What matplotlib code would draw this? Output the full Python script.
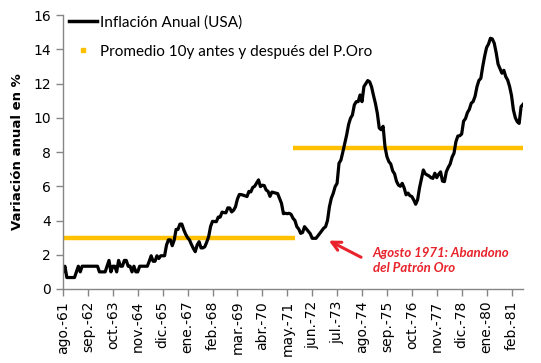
import matplotlib.pyplot as plt
import numpy as np
from matplotlib.lines import Line2D

meses = ['ene.', 'feb.', 'mar.', 'abr.', 'may.', 'jun.',
         'jul.', 'ago.', 'sep.', 'oct.', 'nov.', 'dic.']

# Inflacion interanual USA (%), mensual de ago-1961 a ago-1981
infl_1961 = [1.0, 1.33, 0.67, 0.67, 0.67]
infl_1962 = [0.67, 0.67, 1.0, 1.33, 1.0, 1.33, 1.33, 1.33, 1.33, 1.33, 1.33, 1.33]
infl_1963 = [1.33, 1.33, 1.0, 1.0, 1.0, 1.0, 1.33, 1.67, 1.0, 1.33, 1.33, 1.0]
infl_1964 = [1.67, 1.33, 1.33, 1.67, 1.67, 1.33, 1.33, 1.0, 1.33, 1.0, 1.0, 1.33]
infl_1965 = [1.33, 1.33, 1.33, 1.33, 1.62, 1.94, 1.62, 1.62, 1.94, 1.78, 1.94, 1.94]
infl_1966 = [1.94, 2.56, 2.87, 2.87, 2.53, 2.85, 3.48, 3.48, 3.79, 3.79, 3.46, 3.2]
infl_1967 = [3.0, 2.86, 2.6, 2.37, 2.18, 2.57, 2.76, 2.4, 2.4, 2.47, 2.74, 3.06]
infl_1968 = [3.65, 3.95, 3.94, 3.93, 4.2, 4.2, 4.49, 4.46, 4.45, 4.74, 4.73, 4.5]
infl_1969 = [4.6, 4.8, 5.25, 5.52, 5.51, 5.48, 5.44, 5.4, 5.7, 5.67, 5.93, 6.0]
infl_1970 = [6.18, 6.37, 5.98, 6.06, 6.04, 5.78, 5.7, 5.41, 5.66, 5.63, 5.6, 5.57]
infl_1971 = [5.29, 5.0, 4.4, 4.42, 4.4, 4.42, 4.36, 4.13, 4.0, 3.64, 3.5, 3.25]
infl_1972 = [3.3, 3.64, 3.5, 3.35, 3.23, 2.96, 2.96, 2.96, 3.1, 3.25, 3.4, 3.55]
infl_1973 = [3.64, 4.0, 4.8, 5.3, 5.59, 5.98, 6.17, 7.34, 7.53, 8.0, 8.5, 9.0]
infl_1974 = [9.6, 9.97, 10.16, 10.75, 10.94, 10.94, 11.33, 10.94, 11.82, 12.0, 12.17, 12.1]
infl_1975 = [11.8, 11.3, 10.84, 10.26, 9.4, 9.3, 9.5, 8.3, 7.73, 7.44, 7.3, 6.9]
infl_1976 = [6.72, 6.29, 6.07, 6.0, 6.17, 5.9, 5.5, 5.6, 5.45, 5.4, 5.2, 4.95]
infl_1977 = [5.21, 5.9, 6.44, 6.95, 6.73, 6.66, 6.6, 6.5, 6.46, 6.76, 6.5, 6.7]
infl_1978 = [6.84, 6.3, 6.27, 6.85, 7.1, 7.3, 7.7, 7.93, 8.6, 8.93, 8.95, 9.05]
infl_1979 = [9.8, 9.95, 10.3, 10.49, 10.85, 10.95, 11.26, 11.82, 12.18, 12.3, 13.0, 13.6]
infl_1980 = [14.1, 14.3, 14.64, 14.6, 14.35, 13.8, 13.13, 12.87, 12.6, 12.77, 12.4, 12.2]
infl_1981 = [11.83, 11.3, 10.45, 10.0, 9.77, 9.67, 10.65, 10.78]

inflacion = (infl_1961 + infl_1962 + infl_1963 + infl_1964 + infl_1965 + infl_1966
             + infl_1967 + infl_1968 + infl_1969 + infl_1970 + infl_1971 + infl_1972
             + infl_1973 + infl_1974 + infl_1975 + infl_1976 + infl_1977 + infl_1978
             + infl_1979 + infl_1980 + infl_1981)

# promedios 10 años antes / después del abandono del patrón oro
promedio_antes = 3.0
promedio_despues = 8.25
corte_antes = 121   # ultimo mes del tramo "antes"
corte_despues = 120  # primer mes del tramo "despues"

# etiquetas de categoria: "ago.-61", "sep.-61", ...
etiquetas = []
for i in range(len(inflacion)):
    m = (7 + i) % 12
    anio = 61 + (7 + i) // 12
    etiquetas.append(meses[m] + '-' + str(anio))

x = np.arange(len(inflacion))
serie_antes = np.where(x <= corte_antes, promedio_antes, np.nan)
serie_despues = np.where(x >= corte_despues, promedio_despues, np.nan)

fig = plt.figure(figsize=(5.41, 3.63), dpi=100)
ax = fig.add_axes([63 / 541, 1 - 289 / 363, 460 / 541, 274 / 363])

amarillo = '#FFC000'
gris = '#868686'

ax.plot(x, serie_antes, color=amarillo, lw=3.2, solid_capstyle='butt')
ax.plot(x, serie_despues, color=amarillo, lw=3.2, solid_capstyle='butt')
ax.plot(x, inflacion, color='black', lw=2.3, solid_joinstyle='round')

ax.set_xlim(0, len(inflacion) - 1)
ax.set_ylim(0, 16)
ax.set_yticks(np.arange(0, 17, 2))
ticks_x = x[::13]
ax.set_xticks(ticks_x)
ax.set_xticklabels([etiquetas[i] for i in ticks_x], rotation=90)

for s in ['top', 'right']:
    ax.spines[s].set_visible(False)
for s in ['left', 'bottom']:
    ax.spines[s].set_color(gris)
    ax.spines[s].set_linewidth(1.0)
ax.tick_params(axis='both', direction='out', color=gris, length=5, width=1,
               labelsize=10, labelcolor='black')

fig.text(18 / 541, 1 - 152 / 363, 'Variación anual en %', rotation=90,
         ha='center', va='center', fontsize=9.5, fontweight='bold')

custom_legend = [
    Line2D([0], [0], color='black', lw=2.5, label='Inflación Anual (USA)'),
    Line2D([0], [0], color=amarillo, marker='s', linestyle='none', markersize=3.5,
           label='Promedio 10y antes y después del P.Oro'),
]
ax.legend(handles=custom_legend, loc='upper left', frameon=False,
          bbox_to_anchor=(69 / 541, 1 - 15 / 363), bbox_transform=fig.transFigure,
          borderpad=0, borderaxespad=0, handlelength=1.85, handletextpad=0.15,
          labelspacing=1.0, prop={'family': 'Lato', 'size': 11})

rojo = '#E8232B'
ax.annotate('', xy=(137.4, 2.9), xytext=(156.8, 1.78),
            arrowprops=dict(arrowstyle='->', color=rojo, lw=2.2,
                            mutation_scale=16))
ax.text(161.5, 2.45, 'Agosto 1971: Abandono\ndel Patrón Oro', color=rojo,
        family='Lato', fontweight='bold', fontstyle='italic', fontsize=9.5,
        ha='left', va='top', linespacing=1.25)

plt.savefig('out.png', dpi=100)
